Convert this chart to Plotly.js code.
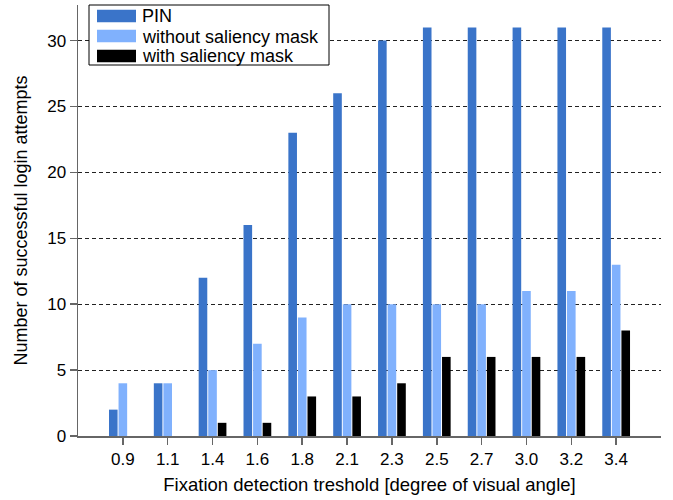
<!DOCTYPE html>
<html>
<head>
<meta charset="utf-8">
<script src="https://cdn.plot.ly/plotly-3.0.1.min.js"></script>
<style>html,body{margin:0;padding:0;background:#fff;}</style>
</head>
<body>
<div id="chart" style="width:673px;height:500px;"></div>
<script>
var categories = ["0.9","1.1","1.4","1.6","1.8","2.1","2.3","2.5","2.7","3.0","3.2","3.4"];
var pinValues = [2,4,12,16,23,26,30,31,31,31,31,31];
var withoutMaskValues = [4,4,5,7,9,10,10,10,10,11,11,13];
var withMaskValues = [0,0,1,1,3,3,4,6,6,6,6,8];
var seriesNames = ["PIN","without saliency mask","with saliency mask"];
var yTicks = [0,5,10,15,20,25,30];

var idx = categories.map(function(_, i){ return i; });
var colors = ["#3a74c9","#80b1fd","#000000"];
var allValues = [pinValues, withoutMaskValues, withMaskValues];
var traces = allValues.map(function(vals, k){
  return {type:"bar", x: idx, y: vals, name: seriesNames[k],
          marker:{color: colors[k], line:{width:0}}, showlegend:false};
});

var W = 673, H = 500;
var M = {l:78, r:12, t:5, b:64};
var pw = W - M.l - M.r, ph = H - M.t - M.b;
function px(x){ return (x - M.l) / pw; }
function py(y){ return 1 - (y - M.t) / ph; }

var fontFam = "Liberation Sans, Arial, sans-serif";
// custom legend (box, swatches, labels)
var shapes = [{type:"rect", xref:"paper", yref:"paper",
  x0:px(89), x1:px(329), y0:py(65), y1:py(5),
  fillcolor:"#fff", line:{color:"#000", width:1}, layer:"above"}];
var annotations = [];
seriesNames.forEach(function(name, k){
  var cy = 16 + 20*k;
  shapes.push({type:"rect", xref:"paper", yref:"paper",
    x0:px(97), x1:px(136), y0:py(cy+6.3), y1:py(cy-6.3),
    fillcolor:colors[k], line:{width:0}, layer:"above"});
  annotations.push({xref:"paper", yref:"paper", x:px(140), y:py(cy+0.5),
    xanchor:"left", yanchor:"middle", showarrow:false, text:name,
    font:{family:fontFam, size:18, color:"#000"}});
});

var layout = {
  width:W, height:H,
  margin:M,
  paper_bgcolor:"#fff", plot_bgcolor:"#fff",
  barmode:"group", bargap:0.36, bargroupgap:0.1,
  font:{family: fontFam, size:18, color:"#000"},
  showlegend:false,
  shapes:shapes, annotations:annotations,
  xaxis:{
    range:[-1, 12], tickmode:"array", tickvals: idx, ticktext: categories,
    showline:true, linecolor:"#666", linewidth:1.5,
    ticks:"outside", ticklen:7, tickcolor:"#666", tickwidth:1.5,
    showgrid:false, zeroline:false,
    tickfont:{size:17},
    title:{text:"Fixation detection treshold [degree of visual angle]", font:{size:18.5}, standoff:10}
  },
  yaxis:{
    range:[0, 32.7], tickmode:"array", tickvals: yTicks,
    showline:true, linecolor:"#666", linewidth:1.5,
    ticks:"outside", ticklen:7, tickcolor:"#666", tickwidth:1.5,
    showgrid:true, gridcolor:"#222", gridwidth:1, griddash:"4px,3px",
    zeroline:false,
    tickfont:{size:17},
    title:{text:"Number of successful login attempts", font:{size:18}, standoff:15}
  }
};
Plotly.newPlot("chart", traces, layout, {displayModeBar:false, staticPlot:true});
</script>
</body>
</html>
